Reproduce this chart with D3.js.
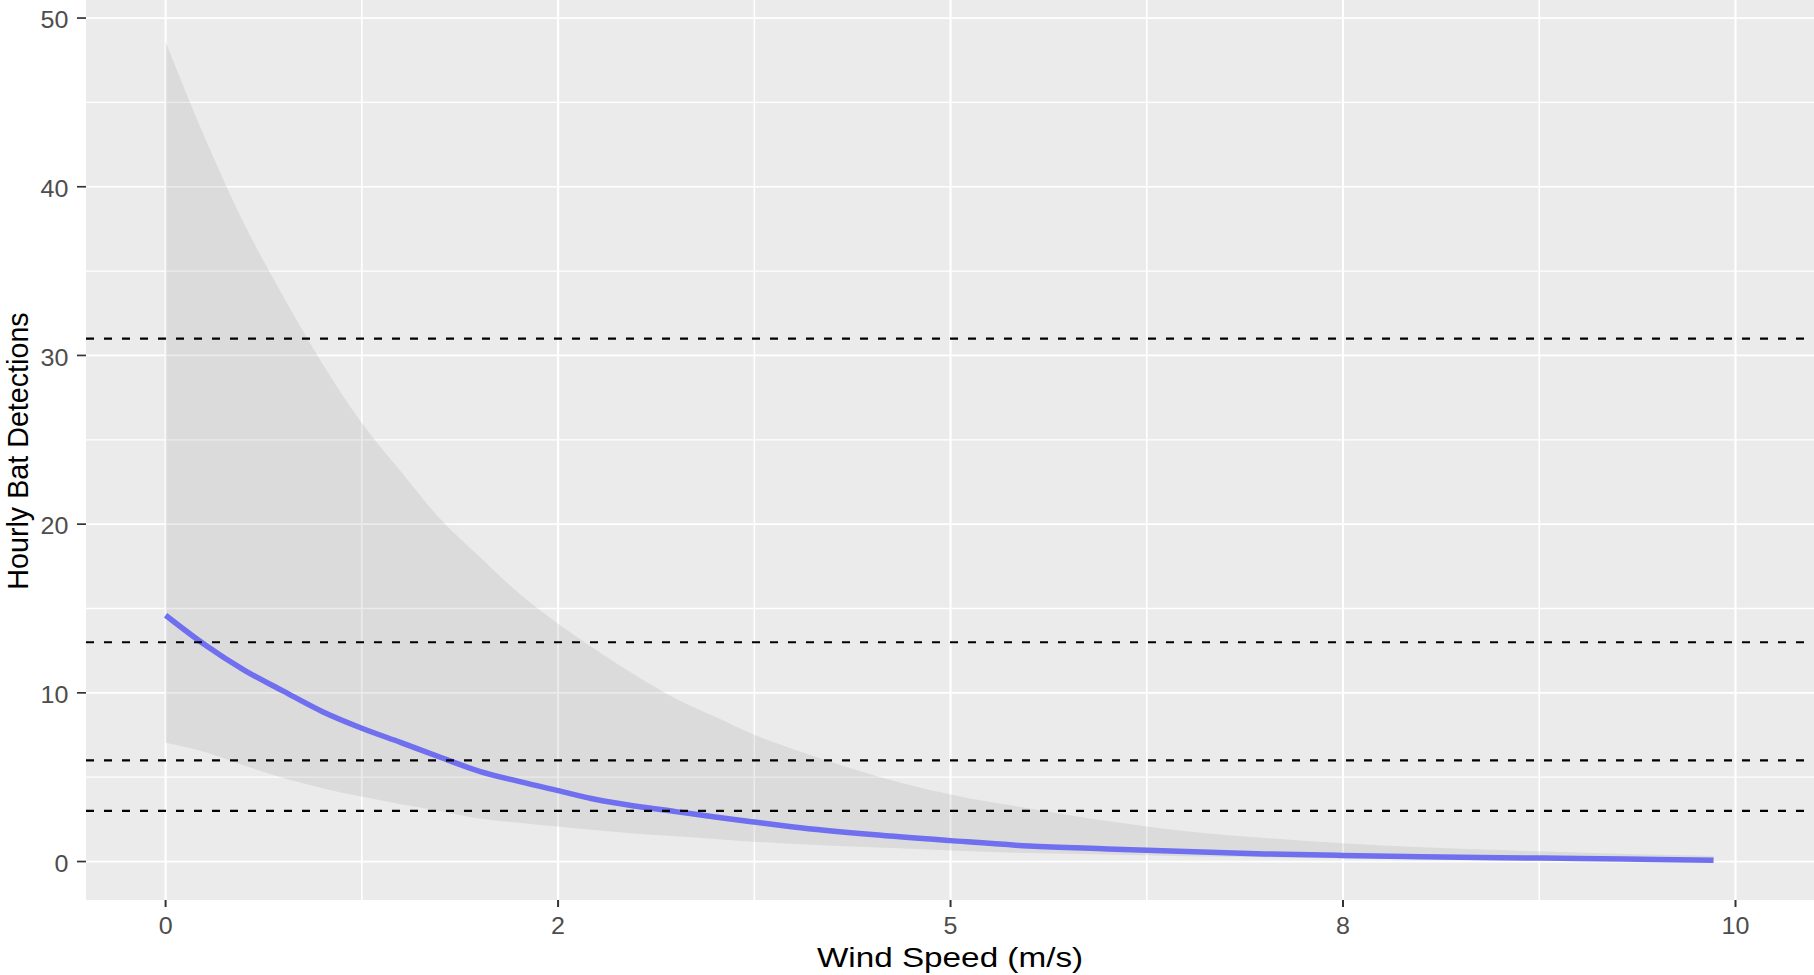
<!DOCTYPE html>
<html>
<head>
<meta charset="utf-8">
<script src="https://cdn.jsdelivr.net/npm/d3@7"></script>
<style>
    body { margin: 0; background: #ffffff; }
    svg { display: block; }
    text { font-family: Arial, "Liberation Sans", sans-serif; }
</style>
</head>
<body>
<div id="chart"></div>
<script>
// values
const windSpeed = [0, 0.25, 0.5, 0.75, 1, 1.25, 1.5, 1.75, 2, 2.25, 2.5, 2.75, 3, 3.25, 3.5, 3.75, 4, 4.5, 5, 5.5, 6, 6.5, 7, 7.5, 8, 8.5, 9, 9.5, 9.86];
const fitted = [14.6, 12.85, 11.35, 10.1, 8.88, 7.9, 7.05, 6.18, 5.35, 4.75, 4.2, 3.66, 3.28, 2.96, 2.64, 2.34, 2.05, 1.6, 1.24, 0.92, 0.75, 0.59, 0.45, 0.36, 0.29, 0.23, 0.18, 0.12, 0.07];
const upperCI = [48.6, 42.9, 37.8, 33.5, 29.5, 26.0, 23.1, 20.3, 18.06, 15.9, 14.1, 12.5, 11.0, 9.65, 8.58, 7.51, 6.65, 5.15, 3.97, 3.15, 2.4, 1.8, 1.4, 1.08, 0.84, 0.68, 0.53, 0.4, 0.33];
const lowerCI = [7.04, 6.5, 5.7, 4.95, 4.35, 3.85, 3.4, 3.0, 2.55, 2.3, 2.07, 1.85, 1.65, 1.5, 1.34, 1.18, 1.05, 0.84, 0.66, 0.5, 0.42, 0.32, 0.25, 0.18, 0.14, 0.1, 0.07, 0.04, 0.03];

const thresholds = [31, 13, 6, 3];

const xTicks = [0, 2.5, 5, 7.5, 10];
const xTickLabels = ["0", "2", "5", "8", "10"];
const xMinor = [1.25, 3.75, 6.25, 8.75];
const yTicks = [0, 10, 20, 30, 40, 50];
const yMinor = [5, 15, 25, 35, 45];

const width = 1814;
const height = 975;
const panel = {left: 86, right: 1814, top: 0, bottom: 900};

const svg = d3.select("#chart")
    .append("svg")
    .attr("width", width)
    .attr("height", height);

const x = d3.scaleLinear().domain([-0.507, 10.5]).range([panel.left, panel.right]);
const y = d3.scaleLinear().domain([-2.28, 51.07]).range([panel.bottom, panel.top]);

// panel background
svg.append("rect")
    .attr("x", panel.left)
    .attr("y", panel.top)
    .attr("width", panel.right - panel.left)
    .attr("height", panel.bottom - panel.top)
    .attr("fill", "#ebebeb");

const grid = svg.append("g");

grid.selectAll(".ymin").data(yMinor).enter()
    .append("line")
    .attr("x1", panel.left).attr("x2", panel.right)
    .attr("y1", (d)=>y(d)).attr("y2", (d)=>y(d))
    .attr("stroke", "#ffffff").attr("stroke-width", 1.3);

grid.selectAll(".ymaj").data(yTicks).enter()
    .append("line")
    .attr("x1", panel.left).attr("x2", panel.right)
    .attr("y1", (d)=>y(d)).attr("y2", (d)=>y(d))
    .attr("stroke", "#ffffff").attr("stroke-width", 1.7);

grid.selectAll(".xmin").data(xMinor).enter()
    .append("line")
    .attr("y1", panel.top).attr("y2", panel.bottom)
    .attr("x1", (d)=>x(d)).attr("x2", (d)=>x(d))
    .attr("stroke", "#ffffff").attr("stroke-width", 1.6);

grid.selectAll(".xmaj").data(xTicks).enter()
    .append("line")
    .attr("y1", panel.top).attr("y2", panel.bottom)
    .attr("x1", (d)=>x(d)).attr("x2", (d)=>x(d))
    .attr("stroke", "#ffffff").attr("stroke-width", 2.1);

// confidence band and fitted curve
const rows = windSpeed.map((w, i)=>({w: w, fit: fitted[i], lo: lowerCI[i], hi: upperCI[i]}));

const area = d3.area()
    .x((d)=>x(d.w))
    .y0((d)=>y(d.lo))
    .y1((d)=>y(d.hi))
    .curve(d3.curveMonotoneX);

svg.append("path")
    .datum(rows)
    .attr("d", area)
    .attr("fill", "#999999")
    .attr("fill-opacity", 0.2);

const line = d3.line()
    .x((d)=>x(d.w))
    .y((d)=>y(d.fit))
    .curve(d3.curveMonotoneX);

svg.append("path")
    .datum(rows)
    .attr("d", line)
    .attr("fill", "none")
    .attr("stroke", "#6f6ff0")
    .attr("stroke-width", 5.5);

// threshold lines
svg.selectAll(".thr").data(thresholds).enter()
    .append("line")
    .attr("x1", panel.left).attr("x2", panel.right)
    .attr("y1", (d)=>y(d)).attr("y2", (d)=>y(d))
    .attr("stroke", "#000000")
    .attr("stroke-width", 2.2)
    .attr("stroke-dasharray", "8,10");

// axes
const xAxis = svg.append("g");
xAxis.selectAll("line").data(xTicks).enter()
    .append("line")
    .attr("x1", (d)=>x(d)).attr("x2", (d)=>x(d))
    .attr("y1", panel.bottom).attr("y2", panel.bottom + 7)
    .attr("stroke", "#333333").attr("stroke-width", 2);
xAxis.selectAll("text").data(xTicks).enter()
    .append("text")
    .attr("transform", (d)=>"translate(" + x(d) + ",934) scale(1.09,1)")
    .attr("text-anchor", "middle")
    .attr("font-size", 23)
    .attr("fill", "#4d4d4d")
    .text((d, i)=>xTickLabels[i]);

const yAxis = svg.append("g");
yAxis.selectAll("line").data(yTicks).enter()
    .append("line")
    .attr("x1", panel.left - 9).attr("x2", panel.left)
    .attr("y1", (d)=>y(d)).attr("y2", (d)=>y(d))
    .attr("stroke", "#333333").attr("stroke-width", 1.7);
yAxis.selectAll("text").data(yTicks).enter()
    .append("text")
    .attr("transform", (d)=>"translate(68.5," + (y(d) + 2) + ") scale(1.09,1)")
    .attr("dy", "0.36em")
    .attr("text-anchor", "end")
    .attr("font-size", 23)
    .attr("fill", "#4d4d4d")
    .text((d)=>d);

// axis titles
svg.append("text")
    .attr("transform", "translate(950,967) scale(1.21,1)")
    .attr("text-anchor", "middle")
    .attr("font-size", 27.5)
    .attr("fill", "#000000")
    .text("Wind Speed (m/s)");

svg.append("text")
    .attr("transform", "translate(28,451) scale(1.05,1) rotate(-90)")
    .attr("text-anchor", "middle")
    .attr("font-size", 28.7)
    .attr("fill", "#000000")
    .text("Hourly Bat Detections");
</script>
</body>
</html>
